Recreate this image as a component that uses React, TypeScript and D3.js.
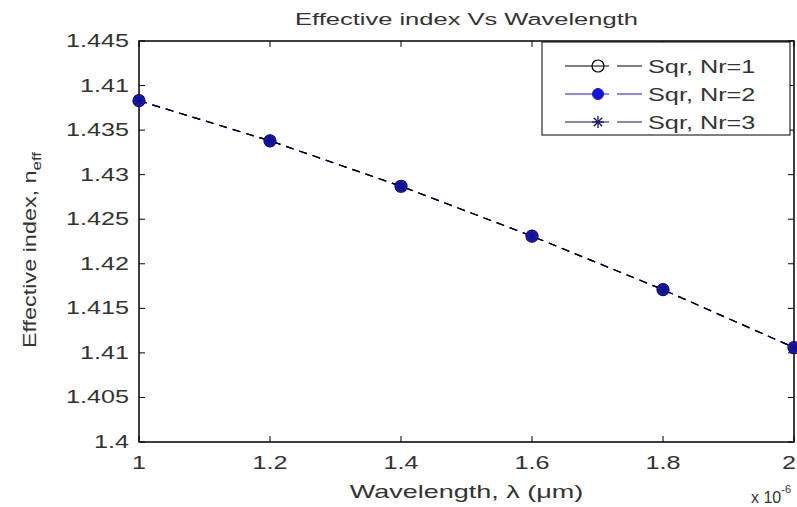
import React from "react";
import * as d3 from "d3";

const wavelengths = [1.0, 1.2, 1.4, 1.6, 1.8, 2.0];
const nr1 = [1.4383, 1.4338, 1.4287, 1.4231, 1.4171, 1.4106];
const nr2 = [1.4383, 1.4338, 1.4287, 1.4231, 1.4171, 1.4106];
const nr3 = [1.4383, 1.4338, 1.4287, 1.4231, 1.4171, 1.4106];
const xTicks = [1, 1.2, 1.4, 1.6, 1.8, 2];
const xTickLabels = ["1", "1.2", "1.4", "1.6", "1.8", "2"];
const yTicks = [1.4, 1.405, 1.41, 1.415, 1.42, 1.425, 1.43, 1.435, 1.44, 1.445];
const yTickLabels = ["1.4", "1.405", "1.41", "1.415", "1.42", "1.425", "1.43", "1.435", "1.41", "1.445"];
const seriesNames = ["Sqr, Nr=1", "Sqr, Nr=2", "Sqr, Nr=3"];

const W = 797, H = 507;
const M = { left: 139, right: 3, top: 41, bottom: 65 };
const FONT = "'Liberation Sans', Arial, sans-serif";
const TXT = "#333";

function SText({ x, y, sx = 1.4, rotate = 0, anchor = "start", size = 18, children }: any) {
  return (
    <text
      transform={`translate(${x},${y}) rotate(${rotate}) scale(${sx},1)`}
      textAnchor={anchor}
      fontSize={size}
      fill={TXT}
    >
      {children}
    </text>
  );
}

function Marker({ kind, x, y, color }: { kind: number; x: number; y: number; color: string }) {
  if (kind === 0) return <circle cx={x} cy={y} r={6} fill="none" stroke={color} strokeWidth={1.2} />;
  if (kind === 1) return <circle cx={x} cy={y} r={5.5} fill={color} stroke={color} />;
  const s = 6;
  return (
    <g stroke={color} strokeWidth={1.3}>
      <line x1={x - s} y1={y} x2={x + s} y2={y} />
      <line x1={x} y1={y - s} x2={x} y2={y + s} />
      <line x1={x - s * 0.7} y1={y - s * 0.7} x2={x + s * 0.7} y2={y + s * 0.7} />
      <line x1={x - s * 0.7} y1={y + s * 0.7} x2={x + s * 0.7} y2={y - s * 0.7} />
    </g>
  );
}

export default function App() {
  const x = d3.scaleLinear().domain([1, 2]).range([M.left, W - M.right]);
  const y = d3.scaleLinear().domain([1.4, 1.445]).range([H - M.bottom, M.top]);
  const series = [
    { vals: nr1, color: "#000000", kind: 0 },
    { vals: nr2, color: "#1515d8", kind: 1 },
    { vals: nr3, color: "#14146e", kind: 2 },
  ];
  const line = d3.line<number>().x((_, i) => x(wavelengths[i])).y((d) => y(d));
  const x0 = M.left, x1 = W - M.right, y0 = H - M.bottom, y1 = M.top;
  const tl = 6;
  const lineOrder = [2, 1, 0];
  return (
    <svg width={W} height={H} style={{ position: "absolute", left: 0, top: 0, background: "#fff" }} fontFamily={FONT}>
      <rect x={0} y={0} width={W} height={H} fill="#fff" />
      <rect x={x0} y={y1} width={x1 - x0} height={y0 - y1} fill="#fff" stroke="#000" strokeWidth={1.5} />
      {xTicks.map((t, i) => (
        <g key={"xt" + i}>
          <line x1={x(t)} x2={x(t)} y1={y0} y2={y0 - tl} stroke="#000" />
          <line x1={x(t)} x2={x(t)} y1={y1} y2={y1 + tl} stroke="#000" />
          <SText x={i === xTicks.length - 1 ? W - 1 : x(t)} y={y0 + 27} anchor={i === xTicks.length - 1 ? "end" : "middle"}>
            {xTickLabels[i]}
          </SText>
        </g>
      ))}
      {yTicks.map((t, i) => (
        <g key={"yt" + i}>
          <line x1={x0} x2={x0 + tl} y1={y(t)} y2={y(t)} stroke="#000" />
          <line x1={x1} x2={x1 - tl} y1={y(t)} y2={y(t)} stroke="#000" />
          <SText x={x0 - 10} y={y(t) + 6} anchor="end">{yTickLabels[i]}</SText>
        </g>
      ))}
      {lineOrder.map((si) => (
        <path key={"l" + si} d={line(series[si].vals) || ""} fill="none" stroke={series[si].color} strokeWidth={1.2} strokeDasharray="8,6" />
      ))}
      {series.map((s, si) =>
        s.vals.map((v, i) => <Marker key={"m" + si + "_" + i} kind={s.kind} x={x(wavelengths[i])} y={y(v)} color={s.color} />)
      )}
      <rect x={542} y={42} width={248} height={93} fill="#fff" stroke="#000" strokeWidth={1} />
      {series.map((s, si) => {
        const ly = 66 + si * 28;
        return (
          <g key={"lg" + si}>
            <line x1={565} x2={642} y1={ly} y2={ly} stroke={s.color} strokeWidth={1.2} strokeDasharray="44,8" />
            <Marker kind={s.kind} x={598} y={ly} color={s.color} />
            <SText x={648} y={ly + 7} size={19} sx={1.33}>{seriesNames[si]}</SText>
          </g>
        );
      })}
      <SText x={(x0 + x1) / 2} y={25} anchor="middle" size={17} sx={1.5}>Effective index Vs Wavelength</SText>
      <SText x={(x0 + x1) / 2} y={498} anchor="middle" size={18} sx={1.5}>Wavelength, λ (μm)</SText>
      <SText x={751} y={503} size={16} sx={1}>x 10<tspan dy={-10} fontSize={11}>-6</tspan></SText>
      <SText x={36} y={250} rotate={-90} anchor="middle" size={18} sx={1.3}>
        Effective index, n<tspan dy={5} fontSize={13}>eff</tspan>
      </SText>
    </svg>
  );
}
